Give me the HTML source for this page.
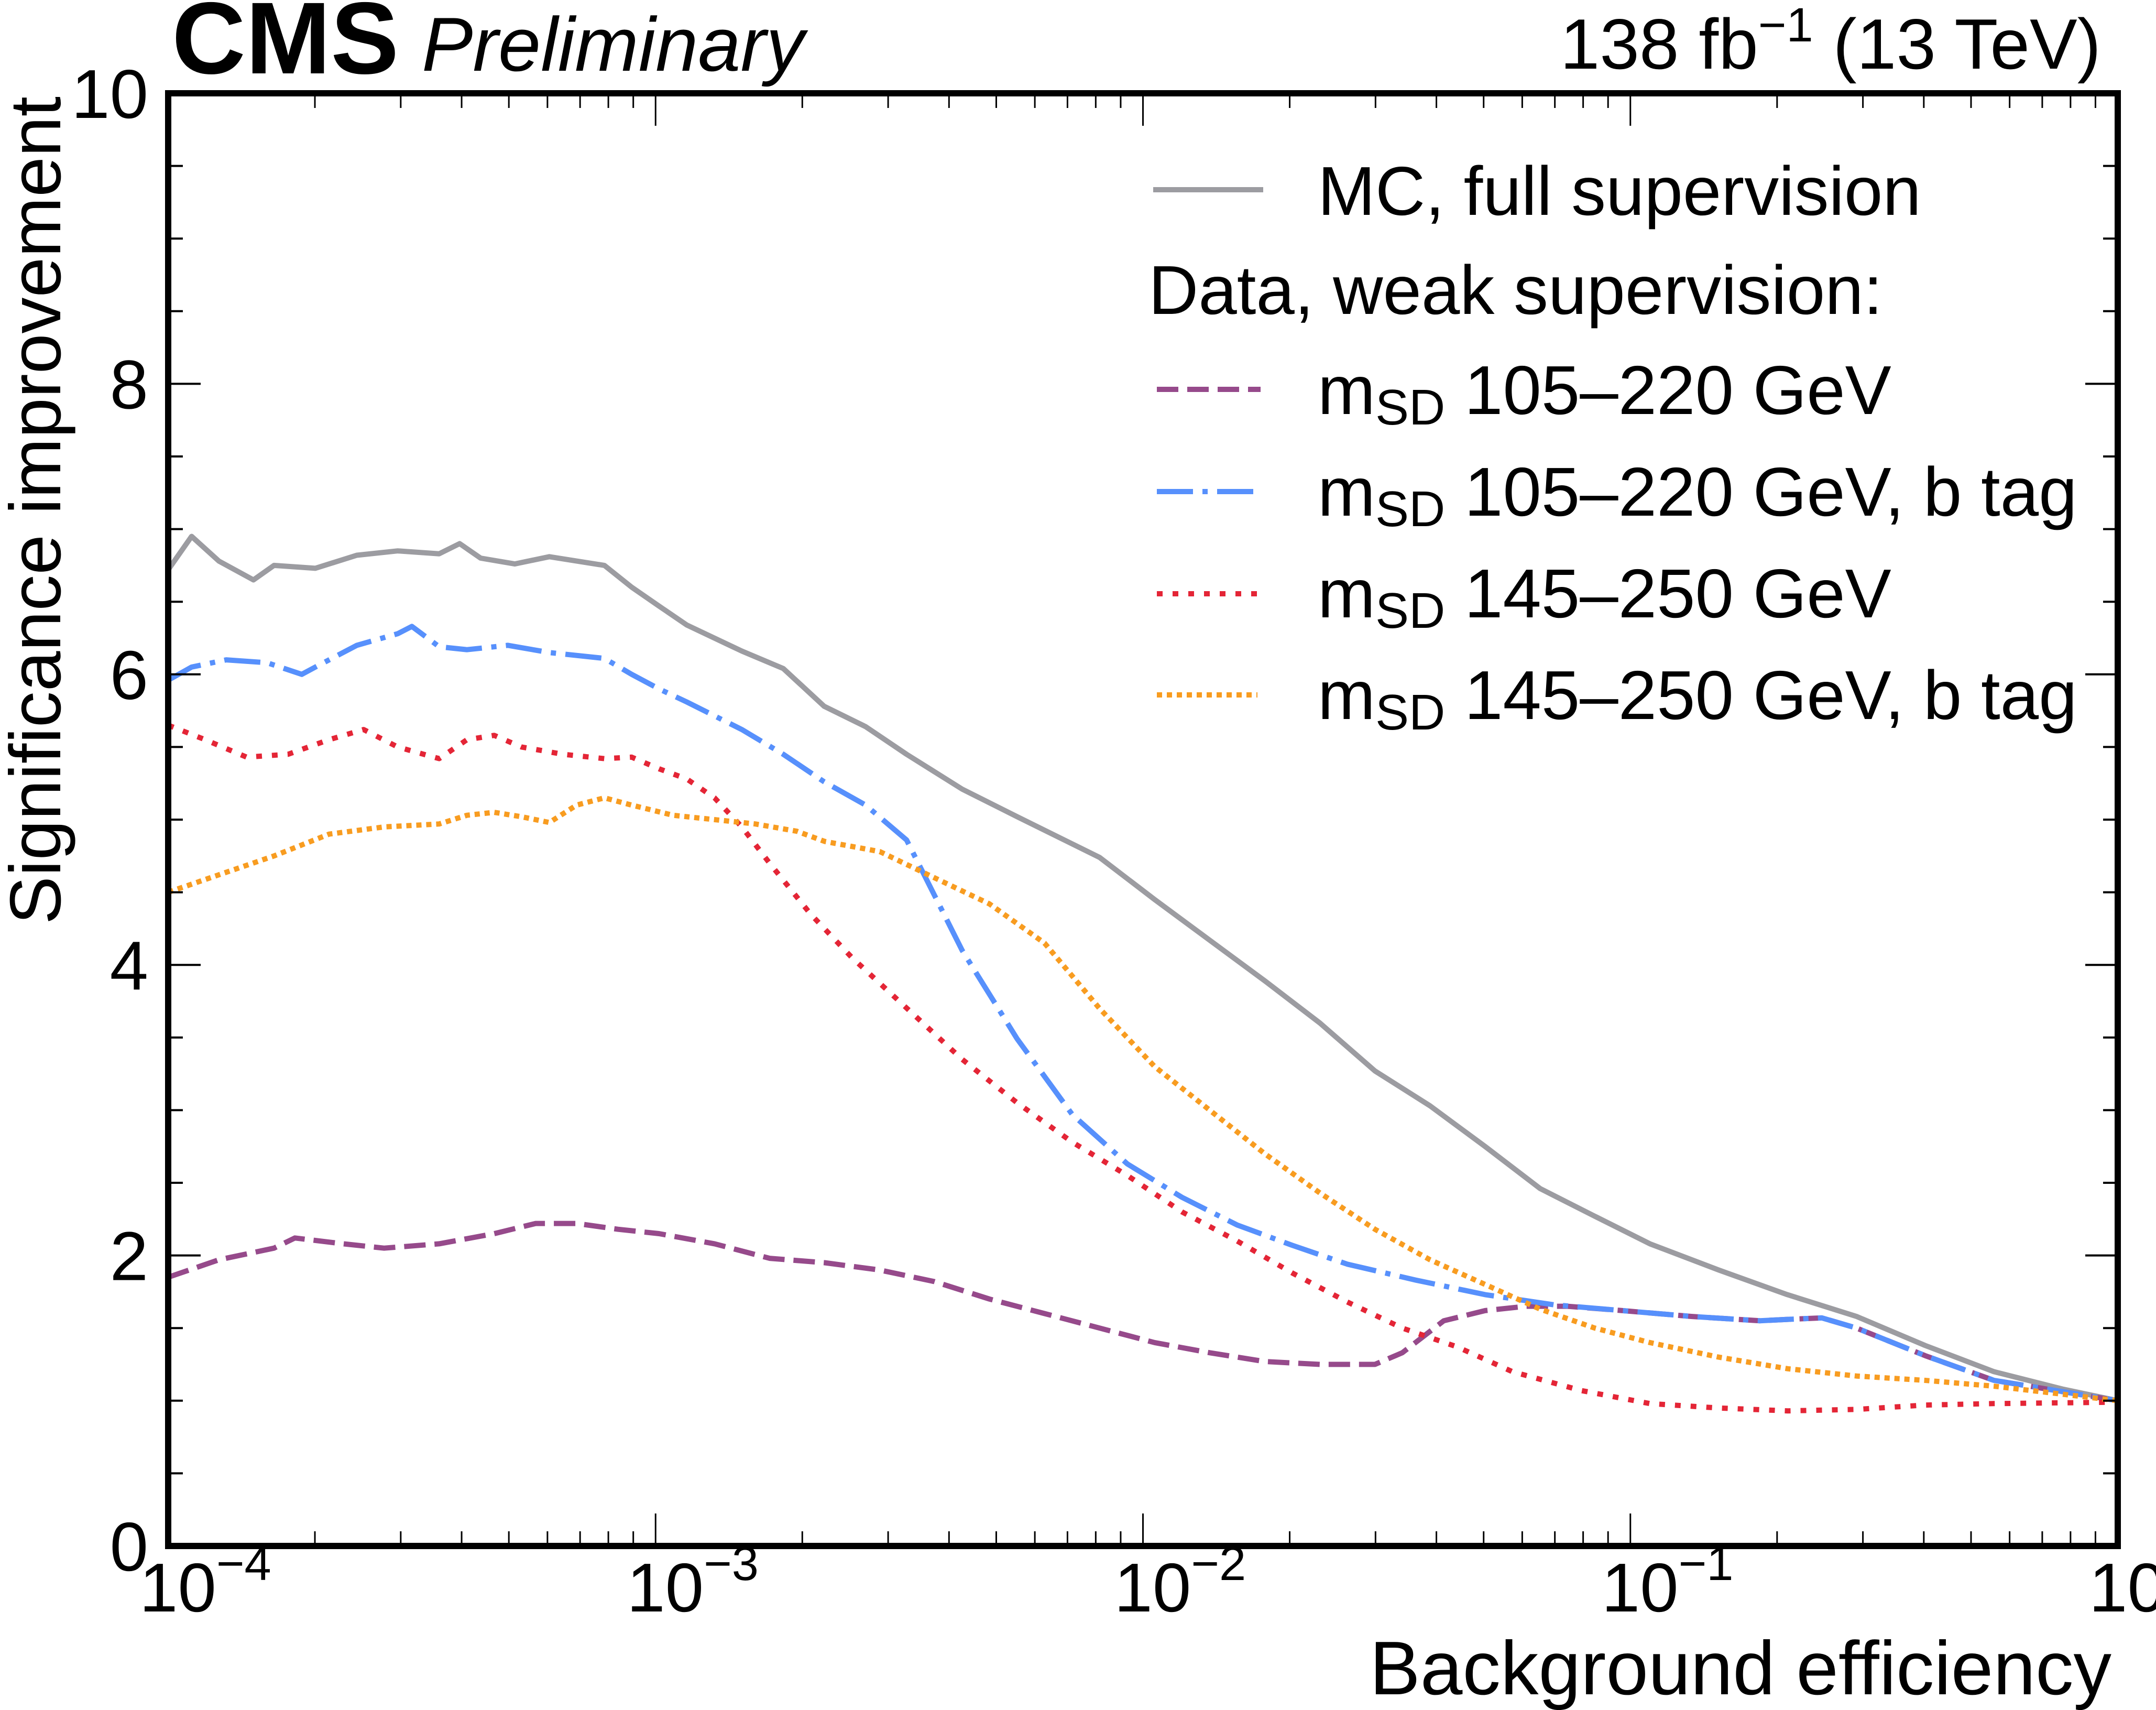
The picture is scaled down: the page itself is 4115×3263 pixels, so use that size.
<!DOCTYPE html>
<html><head><meta charset="utf-8">
<style>
html,body{margin:0;padding:0;background:#fff;}
svg{display:block;font-family:"Liberation Sans",sans-serif;}
</style></head>
<body>
<svg id="chart" xmlns="http://www.w3.org/2000/svg" width="4115" height="3263" viewBox="0 0 4115 3263">
<rect width="4115" height="3263" fill="#fff"/>
<g id="series"></g>
<g id="ticks"></g>
<rect x="321" y="178" width="3721" height="2772" fill="none" stroke="#000" stroke-width="12"/>
<text x="328" y="140" font-size="195" font-weight="bold">CMS</text>
<text x="805" y="135" font-size="146" font-style="italic">Preliminary</text>
<text x="4010" y="131" font-size="136" text-anchor="end">138 fb<tspan font-size="92" dy="-52">−1</tspan><tspan dy="52"> (13 TeV)</tspan></text>
<text transform="translate(115,184) rotate(-90)" font-size="138" text-anchor="end">Significance improvement</text>
<text x="4030" y="3233" font-size="145" text-anchor="end">Background efficiency</text>
<g font-size="132">
<line x1="2201" y1="362" x2="2411" y2="362" stroke="#9c9ca1" stroke-width="10"/>
<text x="2515" y="410">MC, full supervision</text>
<text x="2192" y="599">Data, weak supervision:</text>
<line x1="2208" y1="743" x2="2406" y2="743" stroke="#964a8b" stroke-width="10" stroke-dasharray="41,17"/>
<text x="2515" y="790">m<tspan font-size="96" dy="20">SD</tspan><tspan dy="-20"> 105–220 GeV</tspan></text>
<line x1="2208" y1="938" x2="2400" y2="938" stroke="#5790fc" stroke-width="10" stroke-dasharray="69,18,10,18"/>
<text x="2515" y="984">m<tspan font-size="96" dy="20">SD</tspan><tspan dy="-20"> 105–220 GeV, b tag</tspan></text>
<line x1="2208" y1="1133" x2="2400" y2="1133" stroke="#e42536" stroke-width="10" stroke-dasharray="11,19"/>
<text x="2515" y="1178">m<tspan font-size="96" dy="20">SD</tspan><tspan dy="-20"> 145–250 GeV</tspan></text>
<line x1="2208" y1="1326" x2="2400" y2="1326" stroke="#f89c20" stroke-width="10" stroke-dasharray="10,9"/>
<text x="2515" y="1372">m<tspan font-size="96" dy="20">SD</tspan><tspan dy="-20"> 145–250 GeV, b tag</tspan></text>
</g>
</svg>
<script>
// log10 of background efficiency, and significance improvement
const mcLogX = [-4,-3.952,-3.896,-3.825,-3.783,-3.698,-3.613,-3.529,-3.444,-3.402,-3.359,-3.289,-3.218,-3.105,-3.049,-2.993,-2.936,-2.823,-2.738,-2.654,-2.569,-2.485,-2.371,-2.258,-2.089,-1.976,-1.863,-1.750,-1.637,-1.524,-1.411,-1.298,-1.185,-1.073,-0.960,-0.819,-0.678,-0.536,-0.395,-0.254,-0.113,0];
const mcY = [6.72,6.95,6.78,6.65,6.75,6.73,6.82,6.85,6.83,6.9,6.8,6.76,6.81,6.75,6.6,6.47,6.34,6.16,6.04,5.78,5.64,5.45,5.21,5.02,4.74,4.45,4.17,3.89,3.6,3.27,3.03,2.75,2.46,2.27,2.08,1.9,1.73,1.58,1.38,1.2,1.08,1.0];
const blueLogX = [-4,-3.952,-3.881,-3.797,-3.726,-3.698,-3.613,-3.529,-3.5,-3.444,-3.387,-3.303,-3.218,-3.105,-3.049,-2.993,-2.936,-2.823,-2.738,-2.654,-2.569,-2.485,-2.428,-2.371,-2.258,-2.145,-2.032,-1.920,-1.807,-1.694,-1.581,-1.440,-1.298,-1.157,-1.016,-0.875,-0.734,-0.677,-0.607,-0.536,-0.395,-0.254,0];
const blueY = [5.96,6.05,6.1,6.08,6.0,6.05,6.2,6.28,6.33,6.19,6.17,6.2,6.15,6.11,6.0,5.9,5.81,5.62,5.45,5.26,5.1,4.86,4.48,4.1,3.49,2.97,2.63,2.4,2.21,2.07,1.94,1.83,1.73,1.66,1.62,1.58,1.55,1.56,1.57,1.5,1.31,1.14,1.0];
const redLogX = [-4,-3.924,-3.839,-3.754,-3.670,-3.599,-3.529,-3.444,-3.387,-3.331,-3.275,-3.190,-3.105,-3.049,-2.993,-2.936,-2.879,-2.823,-2.766,-2.682,-2.597,-2.484,-2.371,-2.258,-2.145,-2.032,-1.920,-1.807,-1.694,-1.581,-1.468,-1.355,-1.242,-1.101,-0.960,-0.819,-0.677,-0.536,-0.395,-0.254,0];
const redY = [5.65,5.55,5.43,5.45,5.55,5.62,5.5,5.42,5.55,5.58,5.5,5.45,5.42,5.43,5.35,5.28,5.15,4.95,4.7,4.35,4.05,3.7,3.35,3.05,2.78,2.55,2.3,2.1,1.88,1.68,1.5,1.37,1.2,1.07,0.98,0.95,0.93,0.94,0.97,0.98,0.99];
const orangeLogX = [-4,-3.896,-3.783,-3.670,-3.557,-3.444,-3.387,-3.331,-3.275,-3.218,-3.162,-3.105,-3.049,-2.964,-2.879,-2.795,-2.710,-2.653,-2.540,-2.428,-2.315,-2.202,-2.089,-1.976,-1.863,-1.750,-1.637,-1.524,-1.411,-1.298,-1.185,-1.073,-0.960,-0.819,-0.677,-0.536,-0.395,-0.254,0];
const orangeY = [4.5,4.62,4.75,4.9,4.95,4.97,5.03,5.05,5.02,4.98,5.1,5.15,5.1,5.03,5.0,4.97,4.92,4.85,4.78,4.6,4.42,4.15,3.7,3.3,3.0,2.7,2.43,2.18,1.97,1.8,1.63,1.5,1.4,1.3,1.22,1.17,1.14,1.1,1.0];
const purpleLogX = [-4,-3.896,-3.783,-3.740,-3.641,-3.557,-3.444,-3.331,-3.246,-3.162,-3.077,-2.993,-2.879,-2.766,-2.653,-2.541,-2.428,-2.315,-2.202,-2.089,-1.976,-1.863,-1.750,-1.637,-1.524,-1.468,-1.383,-1.298,-1.214,-1.129,-1.016,-0.875,-0.734,-0.677,-0.607,-0.536,-0.395,-0.254,0];
const purpleY = [1.85,1.97,2.05,2.12,2.08,2.05,2.08,2.15,2.22,2.22,2.18,2.15,2.08,1.98,1.95,1.9,1.82,1.7,1.6,1.5,1.4,1.33,1.27,1.25,1.25,1.33,1.55,1.62,1.65,1.65,1.62,1.58,1.55,1.56,1.57,1.5,1.31,1.14,1.0];
const yTickLabels = ["0","2","4","6","8","10"];
const xTickExps = ["−4","−3","−2","−1","0"];

const NS = "http://www.w3.org/2000/svg";
const L = 321, R = 4042, T = 178, B = 2950;
const xs = lx => L + (lx + 4) / 4 * (R - L);
const ys = v => B - v / 10 * (B - T);
const seriesG = document.getElementById('series');
const ticksG = document.getElementById('ticks');

function drawSeries(xArr, yArr, color, dash, name) {
  const p = document.createElementNS(NS, 'path');
  
  
  let d = '';
  for (let i = 0; i < xArr.length; i++) d += (i ? 'L' : 'M') + xs(xArr[i]).toFixed(1) + ',' + ys(yArr[i]).toFixed(1);
  p.setAttribute('d', d);
  p.setAttribute('fill', 'none');
  p.setAttribute('stroke', color);
  p.setAttribute('stroke-width', '10');
  p.setAttribute('stroke-linejoin', 'round');
  if (dash) p.setAttribute('stroke-dasharray', dash);
  seriesG.appendChild(p);
}
drawSeries(mcLogX, mcY, '#9c9ca1', null, 'series-mc-full-supervision');
drawSeries(purpleLogX, purpleY, '#964a8b', '41,17', 'series-msd-105-220');
drawSeries(blueLogX, blueY, '#5790fc', '69,18,10,18', 'series-msd-105-220-btag');
drawSeries(redLogX, redY, '#e42536', '11,19', 'series-msd-145-250');
drawSeries(orangeLogX, orangeY, '#f89c20', '10,9', 'series-msd-145-250-btag');

function line(x1, y1, x2, y2, w) {
  const l = document.createElementNS(NS, 'line');
  
  
  l.setAttribute('x1', x1); l.setAttribute('y1', y1);
  l.setAttribute('x2', x2); l.setAttribute('y2', y2);
  l.setAttribute('stroke', '#000'); l.setAttribute('stroke-width', w);
  ticksG.appendChild(l);
}
for (let v = 0; v <= 10; v += 0.5) {
  const major = Math.abs(v % 2) < 1e-9;
  const len = major ? 62 : 28;
  const y = ys(v);
  line(L, y, L + len, y, 4);
  line(R - len, y, R, y, 4);
}
yTickLabels.forEach((lab, i) => {
  const t = document.createElementNS(NS, 'text');
  
  
  t.setAttribute('x', 283);
  t.setAttribute('y', ys(i * 2) + 47);
  t.setAttribute('font-size', '132');
  t.setAttribute('text-anchor', 'end');
  t.textContent = lab;
  ticksG.appendChild(t);
});
for (let e = -4; e <= 0; e++) {
  const x = xs(e);
  line(x, B, x, B - 62, 3); line(x, T, x, T + 62, 3);
  if (e < 0) for (let k = 2; k <= 9; k++) {
    const xm = xs(e + Math.log10(k));
    line(xm, B, xm, B - 28, 3); line(xm, T, xm, T + 28, 3);
  }
}
xTickExps.forEach((ex, i) => {
  const t = document.createElementNS(NS, 'text');
  
  
  t.setAttribute('x', xs(i - 4) - 55);
  t.setAttribute('y', 3075);
  t.setAttribute('font-size', '132');
  t.innerHTML = '10<tspan font-size="92" dy="-60">' + ex + '</tspan>';
  ticksG.appendChild(t);
});
</script>
</body></html>
